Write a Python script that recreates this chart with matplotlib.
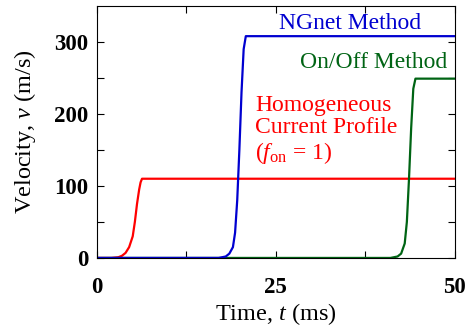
import matplotlib
matplotlib.use('Agg')
import matplotlib.pyplot as plt

plt.rcParams['font.family'] = 'Liberation Serif'
plt.rcParams['mathtext.fontset'] = 'custom'
plt.rcParams['mathtext.rm'] = 'Liberation Serif'
plt.rcParams['mathtext.it'] = 'Liberation Serif:italic'

t_homog = [0, 2, 3, 3.5, 4, 4.5, 5, 5.3, 5.6, 5.9, 6.1, 6.3, 6.6, 50]
v_homog = [0, 0, 1, 3, 7, 15, 30, 50, 75, 95, 105, 110, 110, 110]
t_ngnet = [0, 17, 18, 18.5, 19, 19.3, 19.6, 19.9, 20.2, 20.5, 20.8, 50]
v_ngnet = [0, 0, 2, 6, 15, 35, 80, 150, 230, 290, 308, 308]
t_onoff = [0, 41, 42, 42.5, 43, 43.3, 43.6, 43.9, 44.2, 44.5, 50]
v_onoff = [0, 0, 2, 6, 20, 50, 110, 180, 235, 249, 249]

red = '#ff0000'
blue = '#0000d0'
green = '#006414'

fig = plt.figure(figsize=(4.66, 3.29), dpi=100)
ax = fig.add_axes([0.208, 0.216, 0.768, 0.766])

ax.plot(t_homog, v_homog, color=red, lw=1.6)
ax.plot(t_onoff, v_onoff, color=green, lw=1.6)
ax.plot(t_ngnet, v_ngnet, color=blue, lw=1.6)

ax.set_xlim(0, 50)
ax.set_ylim(0, 350)
ax.set_xticks([0, 25, 50])
ax.set_xticks([12.5, 37.5], minor=True)
ax.set_yticks([0, 100, 200, 300])
ax.set_yticks([50, 150, 250], minor=True)
ax.tick_params(which='both', direction='in', top=True, right=True, length=5, width=0.8)
ax.tick_params(axis='x', pad=14)
ax.tick_params(axis='y', pad=6)
for lab in ax.get_xticklabels() + ax.get_yticklabels():
    lab.set_fontweight('bold')
    lab.set_fontsize(16.5)

ax.set_xlabel('Time, $t$ (ms)', fontsize=17.5, labelpad=2)
ax.set_ylabel('Velocity, $v$ (m/s)', fontsize=17.5, labelpad=12)

ax.text(35.3, 325, 'NGnet Method', color=blue, fontsize=17, ha='center', va='center')
ax.text(38.7, 272, 'On/Off Method', color=green, fontsize=17, ha='center', va='center')
ax.text(22.1, 177, 'Homogeneous\nCurrent Profile\n($f_{\\rm on}$ = 1)', color=red,
        fontsize=17, ha='left', va='center', linespacing=1.1)

fig.savefig('out.png', dpi=100, facecolor='white')
